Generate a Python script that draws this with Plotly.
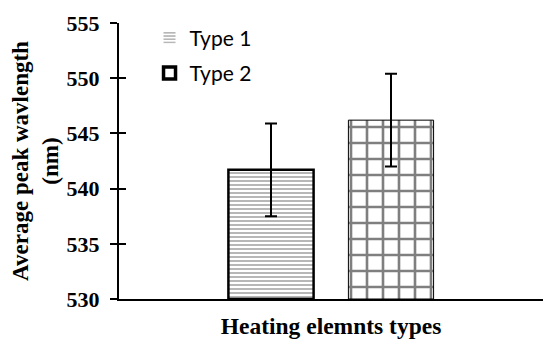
import plotly.graph_objects as go

# Average peak wavelength per heating element type
group = [""]
series_names = ["Type 1", "Type 2"]
type1_mean = [541.7]
type1_err = [4.2]
type2_mean = [546.2]
type2_err = [4.2]

y_base = 530
y_ticks = [530, 535, 540, 545, 550, 555]
y_ticktext = [f"<b>{v}</b>" for v in y_ticks]

stripes = dict(shape="-", fgcolor="#707070", bgcolor="white", size=4, solidity=0.5)
grid = dict(shape="+", fgcolor="black", bgcolor="white", size=16, solidity=0.3)

fig = go.Figure()
fig.add_trace(go.Bar(
    name=series_names[0], x=group, y=[v - y_base for v in type1_mean], base=y_base,
    offsetgroup="g1",
    error_y=dict(type="data", array=type1_err, color="black", thickness=2, width=6),
    marker=dict(color="white", line=dict(color="black", width=2.5), pattern=stripes),
    showlegend=False,
))
fig.add_trace(go.Bar(
    name=series_names[1], x=group, y=[v - y_base for v in type2_mean], base=y_base,
    offsetgroup="g2",
    error_y=dict(type="data", array=type2_err, color="black", thickness=2, width=6),
    marker=dict(color="white", line=dict(color="black", width=1), pattern=grid),
    showlegend=False,
))

# legend keys: plain stripes for Type 1, heavy open box for Type 2
fig.add_trace(go.Bar(
    name=series_names[0], x=group, y=[None], legendgroup="a", offsetgroup="g1",
    marker=dict(color="white", line=dict(width=0), pattern=stripes),
))
fig.add_trace(go.Bar(
    name=series_names[1], x=group, y=[None], legendgroup="b", offsetgroup="g2",
    marker=dict(color="white", line=dict(color="black", width=3.5)),
))

serif = "Liberation Serif"
fig.update_layout(
    width=544, height=339,
    margin=dict(l=119, r=1, t=23, b=40),
    paper_bgcolor="white", plot_bgcolor="white",
    barmode="group", bargap=0.434, bargroupgap=0.29,
    showlegend=True,
    legend=dict(x=0.072, y=1.02, xanchor="left", yanchor="top",
                font=dict(family="Lato", size=21, color="black"),
                bgcolor="rgba(0,0,0,0)", itemwidth=30,
                traceorder="grouped", tracegroupgap=5),
    xaxis=dict(showline=True, linecolor="black", linewidth=2, ticks="",
               showticklabels=False, showgrid=False,
               title=dict(text="<b>Heating elemnts types</b>",
                          font=dict(family=serif, size=23.5, color="black"),
                          standoff=19)),
    yaxis=dict(range=[530, 555], tickvals=y_ticks, ticktext=y_ticktext,
               showline=True, linecolor="black",
               linewidth=2, ticks="outside", ticklen=7, tickwidth=2, tickcolor="black",
               showgrid=False, zeroline=False,
               tickfont=dict(family=serif, size=22, color="black"),
               ticklabelstandoff=6,
               title=dict(text="<b>Average peak wavlength<br>(nm)</b>",
                          font=dict(family=serif, size=23, color="black"),
                          standoff=2)),
    yaxis2=dict(range=[530, 555], tickvals=y_ticks, overlaying="y", side="left",
                ticks="inside", ticklen=7, tickwidth=2, tickcolor="black",
                showticklabels=False, showgrid=False, zeroline=False, showline=False),
    font=dict(family=serif, color="black"),
)
# hidden trace so the inside tick marks on the secondary axis are drawn
fig.add_trace(go.Scatter(x=group, y=[None], yaxis="y2", showlegend=False, hoverinfo="skip"))

fig.write_html("out.html")
